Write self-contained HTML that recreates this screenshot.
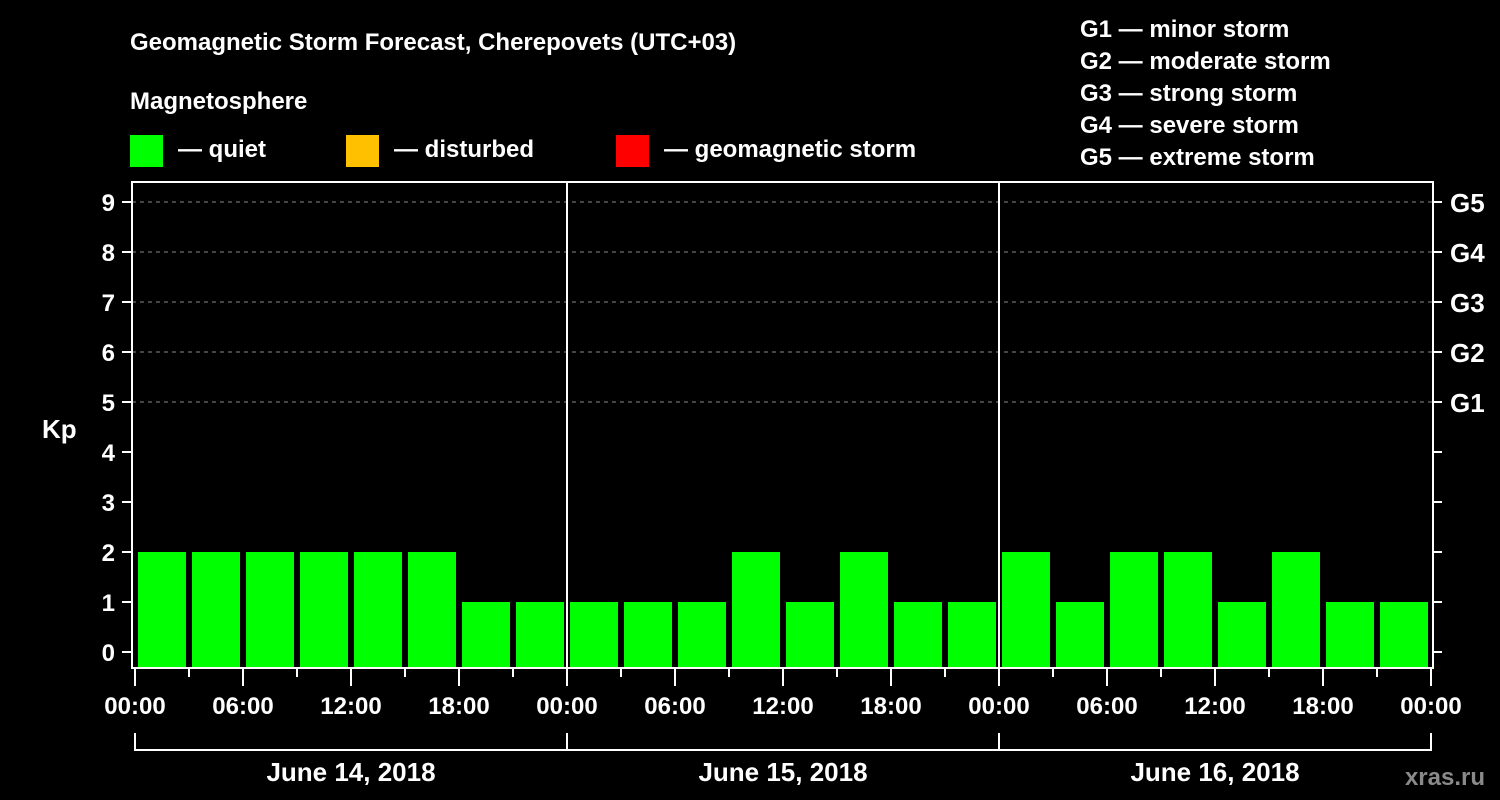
<!DOCTYPE html>
<html><head><meta charset="utf-8"><style>
html,body{margin:0;padding:0;background:#000;}
svg{display:block;font-family:"Liberation Sans",Arial,sans-serif;font-weight:bold;}
</style></head><body>
<svg id="c" width="1500" height="800" xmlns="http://www.w3.org/2000/svg">
<rect width="1500" height="800" fill="#000"/>
<text x="130" y="50" fill="#fff" font-size="24">Geomagnetic Storm Forecast, Cherepovets (UTC+03)</text>
<text x="130" y="109" fill="#fff" font-size="24">Magnetosphere</text>
<g><rect x="130" y="135" width="33" height="32" fill="#00ff00"/><text x="178" y="157" fill="#fff" font-size="24">— quiet</text></g>
<g><rect x="346" y="135" width="33" height="32" fill="#ffc000"/><text x="394" y="157" fill="#fff" font-size="24">— disturbed</text></g>
<g><rect x="616" y="135" width="33" height="32" fill="#ff0000"/><text x="664" y="157" fill="#fff" font-size="24">— geomagnetic storm</text></g>
<g fill="#fff" font-size="24">
<text x="1080" y="37">G1 — minor storm</text>
<text x="1080" y="69">G2 — moderate storm</text>
<text x="1080" y="101">G3 — strong storm</text>
<text x="1080" y="133">G4 — severe storm</text>
<text x="1080" y="165">G5 — extreme storm</text>
</g>
<text x="42" y="438" fill="#fff" font-size="26">Kp</text>
<text x="1485" y="785" fill="#8a8a8a" font-size="24" text-anchor="end">xras.ru</text>
<g id="plot"></g>
</svg>
<script>
const kpValues=[2,2,2,2,2,2,1,1, 1,1,1,2,1,2,1,1, 2,1,2,2,1,2,1,1];
const dayLabels=["June 14, 2018","June 15, 2018","June 16, 2018"];
const yTicks=[0,1,2,3,4,5,6,7,8,9];
const gLabels=["G1","G2","G3","G4","G5"];
const hourLabels=["00:00","06:00","12:00","18:00"];
const NS="http://www.w3.org/2000/svg";
const g=document.getElementById('plot');
const X0=135,PX_H=18,Y0=652,PX_K=50,BOT=668,TOP=182,RIGHT=1433,LEFT=132;
const xs=h=>X0+h*PX_H, ys=k=>Y0-k*PX_K;
function mk(t,a,p){const e=document.createElementNS(NS,t);for(const k in a)e.setAttribute(k,a[k]);(p||g).appendChild(e);return e;}
// grid
yTicks.forEach(k=>{
 if(k>=5){const l=mk('line',{x1:LEFT,x2:RIGHT,y1:ys(k),y2:ys(k),stroke:'#888','stroke-dasharray':'4,4','stroke-width':1});
 
 }
 const t=mk('line',{x1:122,x2:LEFT,y1:ys(k),y2:ys(k),stroke:'#fff','stroke-width':2});
 
 
 const tr=mk('line',{x1:RIGHT,x2:1442,y1:ys(k),y2:ys(k),stroke:'#fff','stroke-width':2});
 
 
 const lb=mk('text',{x:115,y:ys(k)+9,fill:'#fff','font-size':24,'text-anchor':'end'});lb.textContent=k;
 
 
 if(k>=5){const gl=mk('text',{x:1450,y:ys(k)+10,fill:'#fff','font-size':26});gl.textContent=gLabels[k-5];
 
 }
});
// bars
kpValues.forEach((v,i)=>{
 const h=i*3;const r=mk('rect',{x:xs(h)+3,y:ys(v),width:3*PX_H-6,height:BOT-ys(v),fill:v>=5?'#ff0000':(v>=4?'#ffc000':'#00ff00')});
 
 
});
// frame
const fr=mk('rect',{x:LEFT,y:TOP,width:RIGHT-LEFT,height:BOT-TOP,fill:'none',stroke:'#fff','stroke-width':2});


// day separators, x ticks, labels
for(let d=0;d<=3;d++){
 const x=xs(d*24);
 if(d>0&&d<3){const s=mk('line',{x1:x,x2:x,y1:TOP,y2:BOT,stroke:'#fff','stroke-width':2});
 
 }
}
for(let h=0;h<=72;h+=3){
 const x=xs(h);const major=h%6===0;
 const t=mk('line',{x1:x,x2:x,y1:BOT,y2:major?686:677,stroke:'#fff','stroke-width':2});
 
 
 if(major&&h%6===0&&(h%24)%6===0){
  const lb=mk('text',{x:x,y:714,fill:'#fff','font-size':24,'text-anchor':'middle'});lb.textContent=hourLabels[(h%24)/6];
  
  
 }
}
dayLabels.forEach((d,i)=>{
 const a=xs(i*24),b=xs((i+1)*24);
 const p=mk('path',{d:`M${a} 733V750H${b}`+(i===2?'V733':''),fill:'none',stroke:'#fff','stroke-width':2});
 
 
 const t=mk('text',{x:(a+b)/2,y:781,fill:'#fff','font-size':26,'text-anchor':'middle'});t.textContent=d;
 
 
});
</script>
</body></html>
